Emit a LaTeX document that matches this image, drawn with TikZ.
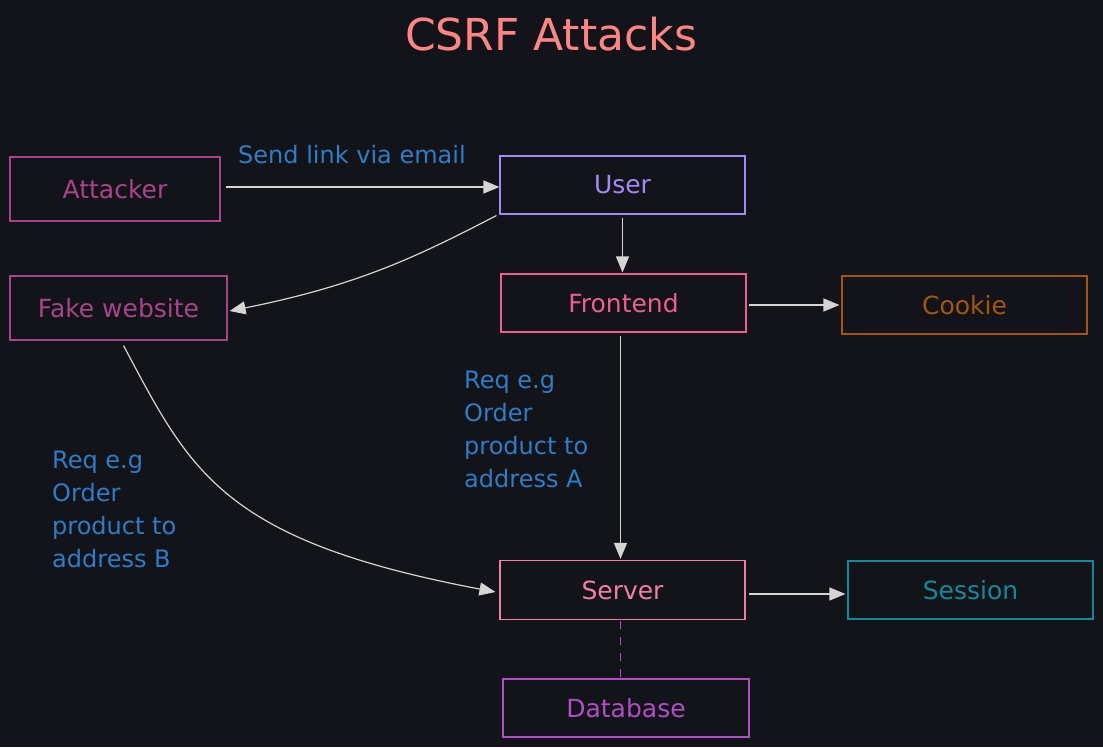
\documentclass[tikz,border=0pt]{standalone}
\usepackage{fontspec}
\setmainfont{DejaVu Sans}
\usetikzlibrary{arrows.meta,positioning}
\definecolor{bg}{HTML}{121419}
\definecolor{cattk}{HTML}{A8458A}
\definecolor{cuser}{HTML}{A58AF5}
\definecolor{cfront}{HTML}{EE5E93}
\definecolor{cserver}{HTML}{F27FA8}
\definecolor{ccookie}{HTML}{A4560D}
\definecolor{csess}{HTML}{138A9A}
\definecolor{cdb}{HTML}{B14DC6}
\definecolor{cblue}{HTML}{2F7DC6}
\definecolor{ctitle}{HTML}{FF8585}
\definecolor{carrow}{HTML}{D4D4D4}
\tikzset{
  box/.style={draw=#1, text=#1, line width=1.1pt, minimum height=58pt, font=\fontsize{25}{28}\selectfont, inner sep=0pt},
  lbl/.style={text=cblue, font=\fontsize{24}{33}\selectfont, align=left, inner sep=0pt, anchor=north west},
  conn/.style={draw=carrow, line width=1.2pt, -{Triangle[length=16pt,width=13pt]}},
}
\begin{document}
\begin{tikzpicture}[x=1pt,y=-1pt]
\fill[bg] (0,0) rectangle (1103,747);
\useasboundingbox (0,0) rectangle (1103,747);
\node[text=ctitle, font=\fontsize{44}{48}\selectfont] (title) at (551,34) {CSRF Attacks};

\node[box=cattk, minimum width=210pt, minimum height=64pt] (attacker) at (115,189) {Attacker};
\node[box=cuser, minimum width=245pt] (user) at (622.5,185) {User};
\node[box=cattk, minimum width=217pt, minimum height=64pt] (fake) at (118.5,308) {Fake website};
\node[box=cfront, minimum width=245pt] (front) at (623.5,303) {Frontend};
\node[box=ccookie, minimum width=245pt] (cookie) at (964.5,305) {Cookie};
\node[box=cserver, minimum width=245pt, minimum height=59pt] (server) at (622.5,590) {Server};
\node[box=csess, minimum width=245pt] (session) at (970.5,590) {Session};
\node[box=cdb, minimum width=246pt] (db) at (626,708) {Database};

\node[lbl, anchor=west] (l1) at (238,155) {Send link via email};
\node[lbl] (l2) at (464,371) {Req e.g\\Order\\product to\\address A};
\node[lbl] (l3) at (52,451) {Req e.g\\Order\\product to\\address B};

\draw[conn] ([xshift=5pt,yshift=2pt]attacker.east) -- ([yshift=2pt]user.west |- attacker.east);
\draw[conn] ([xshift=-3pt,yshift=-1pt]user.south west) .. controls (420,255) and (360,285) .. ([xshift=2pt,yshift=-3pt]fake.east);
\draw[conn] ([yshift=-3pt]user.south) -- ([yshift=1pt]user.south |- front.north);
\draw[conn] ([xshift=2pt,yshift=-2pt]front.east) -- ([xshift=-2pt,yshift=-2pt]cookie.west |- front.east);
\draw[conn] ([xshift=-3pt,yshift=-3pt]front.south) -- ([xshift=-2pt,yshift=1pt]server.north);
\draw[conn] ([xshift=5pt,yshift=-5pt]fake.south) .. controls (190,470) and (220,540) .. ([xshift=-4pt,yshift=-2pt]server.west);
\draw[conn] ([xshift=3pt,yshift=-4pt]server.east) -- ([xshift=-2pt,yshift=-4pt]session.west);
\draw[draw=cdb, line width=1.1pt, dash pattern=on 8pt off 8pt] ([xshift=-2pt,yshift=-1pt]server.south) -- ([xshift=-2pt,yshift=0pt]server.south |- db.north);
\end{tikzpicture}
\end{document}
